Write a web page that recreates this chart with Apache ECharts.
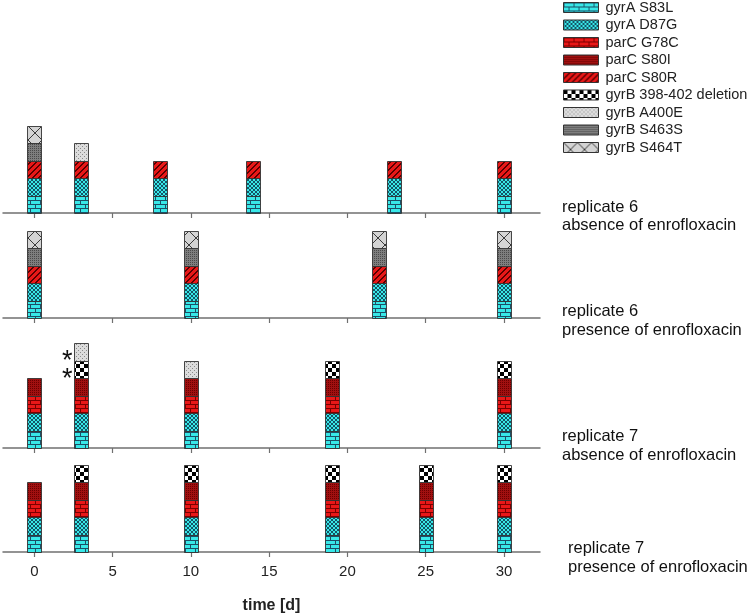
<!DOCTYPE html>
<html><head><meta charset="utf-8">
<script src="https://cdn.jsdelivr.net/npm/echarts@6/dist/echarts.min.js"></script>
<style>html,body{margin:0;padding:0;background:#fff}#c{width:750px;height:616px}</style>
</head><body><div id="c"></div>
<script>
// ---- data ----
const mutations = ['gyrA S83L','gyrA D87G','parC G78C','parC S80I','parC S80R','gyrB 398-402 deletion','gyrB A400E','gyrB S463S','gyrB S464T'];
const tickValues = [0, 5, 10, 15, 20, 25, 30];
const axisTitle = 'time [d]';

const days6Absence = [0, 3, 8, 14, 23, 30];
const stacks6Absence = [
  ['gyrA S83L','gyrA D87G','parC S80R','gyrB S463S','gyrB S464T'],
  ['gyrA S83L','gyrA D87G','parC S80R','gyrB A400E'],
  ['gyrA S83L','gyrA D87G','parC S80R'],
  ['gyrA S83L','gyrA D87G','parC S80R'],
  ['gyrA S83L','gyrA D87G','parC S80R'],
  ['gyrA S83L','gyrA D87G','parC S80R']
];
const days6Presence = [0, 10, 22, 30];
const stacks6Presence = [
  ['gyrA S83L','gyrA D87G','parC S80R','gyrB S463S','gyrB S464T'],
  ['gyrA S83L','gyrA D87G','parC S80R','gyrB S463S','gyrB S464T'],
  ['gyrA S83L','gyrA D87G','parC S80R','gyrB S463S','gyrB S464T'],
  ['gyrA S83L','gyrA D87G','parC S80R','gyrB S463S','gyrB S464T']
];
const days7Absence = [0, 3, 10, 19, 30];
const stacks7Absence = [
  ['gyrA S83L','gyrA D87G','parC G78C','parC S80I'],
  ['gyrA S83L','gyrA D87G','parC G78C','parC S80I','gyrB 398-402 deletion','gyrB A400E'],
  ['gyrA S83L','gyrA D87G','parC G78C','parC S80I','gyrB A400E'],
  ['gyrA S83L','gyrA D87G','parC G78C','parC S80I','gyrB 398-402 deletion'],
  ['gyrA S83L','gyrA D87G','parC G78C','parC S80I','gyrB 398-402 deletion']
];
const days7Presence = [0, 3, 10, 19, 25, 30];
const stacks7Presence = [
  ['gyrA S83L','gyrA D87G','parC G78C','parC S80I'],
  ['gyrA S83L','gyrA D87G','parC G78C','parC S80I','gyrB 398-402 deletion'],
  ['gyrA S83L','gyrA D87G','parC G78C','parC S80I','gyrB 398-402 deletion'],
  ['gyrA S83L','gyrA D87G','parC G78C','parC S80I','gyrB 398-402 deletion'],
  ['gyrA S83L','gyrA D87G','parC G78C','parC S80I','gyrB 398-402 deletion'],
  ['gyrA S83L','gyrA D87G','parC G78C','parC S80I','gyrB 398-402 deletion']
];
const panelLabels = [
  ['replicate 6', 'absence of enrofloxacin'],
  ['replicate 6', 'presence of enrofloxacin'],
  ['replicate 7', 'absence of enrofloxacin'],
  ['replicate 7', 'presence of enrofloxacin']
];
// asterisk annotation (replicate 7, absence; day 3; stack levels)
const asteriskDay = 3;
const asteriskLevels = [5.5, 4.5];

// ---- patterns ----
function tile(w, h, bg, fg, draw) {
  const c = document.createElement('canvas');
  c.width = w; c.height = h;
  const ctx = c.getContext('2d');
  ctx.fillStyle = bg; ctx.fillRect(0, 0, w, h);
  ctx.fillStyle = fg;
  draw(ctx, w, h);
  return { image: c, repeat: 'repeat' };
}
const brick = (ctx) => { ctx.fillRect(0,0,10,1); ctx.fillRect(0,4,10,1); ctx.fillRect(0,0,1,4); ctx.fillRect(5,4,1,4); };
const dot2 = (ctx) => { ctx.fillRect(0,0,1,1); };
const dot3 = (ctx) => { ctx.fillRect(0,0,1,1); ctx.fillRect(2,2,1,1); };
const patterns = {
  'gyrA S83L': tile(10, 8, '#38E8E8', '#1B4F66', brick),
  'gyrA D87G': tile(4, 4, '#38E8E8', '#145566', (ctx) => {
    for (let i = 0; i < 4; i++) { ctx.fillRect(i, i, 1, 1); ctx.fillRect(i, 3 - i, 1, 1); }
  }),
  'parC G78C': tile(10, 8, '#E81818', '#7A0000', brick),
  'parC S80I': tile(2, 2, '#A01010', '#6A0000', dot2),
  'parC S80R': tile(6, 6, '#E81818', '#5A0000', (ctx) => {
    for (let i = 0; i < 6; i++) { ctx.fillRect(i, 5 - i, 1, 1); ctx.fillRect((i + 1) % 6, 5 - i, 1, 1); }
  }),
  'gyrB 398-402 deletion': tile(8, 8, '#FFFFFF', '#000000', (ctx) => { ctx.fillRect(0,0,4,4); ctx.fillRect(4,4,4,4); }),
  'gyrB A400E': tile(4, 4, '#DCDCDC', '#8A8A8A', dot3),
  'gyrB S463S': tile(2, 2, '#7E7E7E', '#4A4A4A', dot2),
  'gyrB S464T': tile(14, 14, '#D4D4D4', '#3A3A3A', (ctx) => {
    for (let i = 0; i < 14; i++) { ctx.fillRect(i, i, 1, 1); ctx.fillRect(13 - i, i, 1, 1); }
  })
};

// ---- build ----
const panels = [
  [days6Absence, stacks6Absence],
  [days6Presence, stacks6Presence],
  [days7Absence, stacks7Absence],
  [days7Presence, stacks7Presence]
];
const gridTops = [108, 213, 343, 447];
const font = '"Liberation Sans", Arial, sans-serif';
const BAR_W = 14;

const grids = gridTops.map(t => ({ left: 3, width: 537, top: t, height: 105 }));
const xAxes = panels.map((p, i) => ({
  type: 'value', gridIndex: i, min: -2, max: 32.3,
  splitLine: { show: false },
  axisLine: { show: true, lineStyle: { color: '#707070', width: 1.5 } },
  axisTick: { show: true, customValues: tickValues, length: 5, lineStyle: { color: '#707070', width: 1.2 } },
  axisLabel: { show: i === 3, customValues: tickValues, fontSize: 15, color: '#222', margin: 12, fontFamily: font },
  name: i === 3 ? axisTitle : '',
  nameLocation: 'middle', nameGap: 46,
  nameTextStyle: { fontSize: 16, fontWeight: 'bold', color: '#222', fontFamily: font }
}));
const yAxes = panels.map((p, i) => ({ type: 'value', gridIndex: i, min: 0, max: 6, show: false }));

function renderSeg(fill, api) {
  const day = api.value(0), lo = api.value(1), hi = api.value(2);
  const a = api.coord([day, lo]);
  const b = api.coord([day, hi]);
  return {
    type: 'rect',
    shape: { x: Math.round(a[0] - BAR_W / 2) + 0.5, y: Math.round(b[1]) + 0.5, width: BAR_W, height: Math.round(a[1]) - Math.round(b[1]) },
    style: { fill: fill, stroke: '#333', lineWidth: 0.9 }
  };
}

const series = [];
panels.forEach(([days, stacks], pi) => {
  mutations.forEach(m => {
    const data = [];
    days.forEach((d, k) => {
      const lvl = stacks[k].indexOf(m);
      if (lvl >= 0) data.push([d, lvl, lvl + 1]);
    });
    const s = {
      type: 'custom', name: m,
      xAxisIndex: pi, yAxisIndex: pi,
      itemStyle: { color: patterns[m], borderColor: '#333', borderWidth: 0.9 },
      renderItem: (params, api) => renderSeg(patterns[m], api),
      encode: { x: 0, y: [1, 2] },
      silent: true,
      data: data
    };
    if (pi === 2 && m === 'gyrB 398-402 deletion') {
      s.markPoint = {
        symbol: 'circle', symbolSize: 0,
        label: { show: true, formatter: '*', fontSize: 27, color: '#111', offset: [-14, 10], fontFamily: font },
        data: asteriskLevels.map(v => ({ coord: [asteriskDay, v] }))
      };
    }
    series.push(s);
  });
});

const labelPos = [[562, 207, 225], [562, 311, 330], [562, 436, 455], [568, 548, 567]];
const graphic = [];
panelLabels.forEach((lines, i) => {
  const [x, y1, y2] = labelPos[i];
  [y1, y2].forEach((y, j) => graphic.push({
    type: 'text', x: x, y: y,
    style: { text: lines[j], font: '16.5px ' + font, fill: '#111', verticalAlign: 'middle', align: 'left' }
  }));
});

const chart = echarts.init(document.getElementById('c'), null, { renderer: 'canvas' });
chart.setOption({
  animation: false,
  backgroundColor: '#fff',
  grid: grids, xAxis: xAxes, yAxis: yAxes, series: series,
  legend: {
    data: mutations.map(m => ({ name: m, icon: 'rect', itemStyle: { color: patterns[m], borderColor: '#333', borderWidth: 1 } })),
    orient: 'vertical', left: 563, top: 0, padding: 0,
    itemWidth: 35, itemHeight: 10, itemGap: 2.5,
    textStyle: { fontSize: 14.5, color: '#222', fontFamily: font, padding: [0, 0, 0, 2] },
    selectedMode: false
  },
  graphic: graphic
});
</script></body></html>
